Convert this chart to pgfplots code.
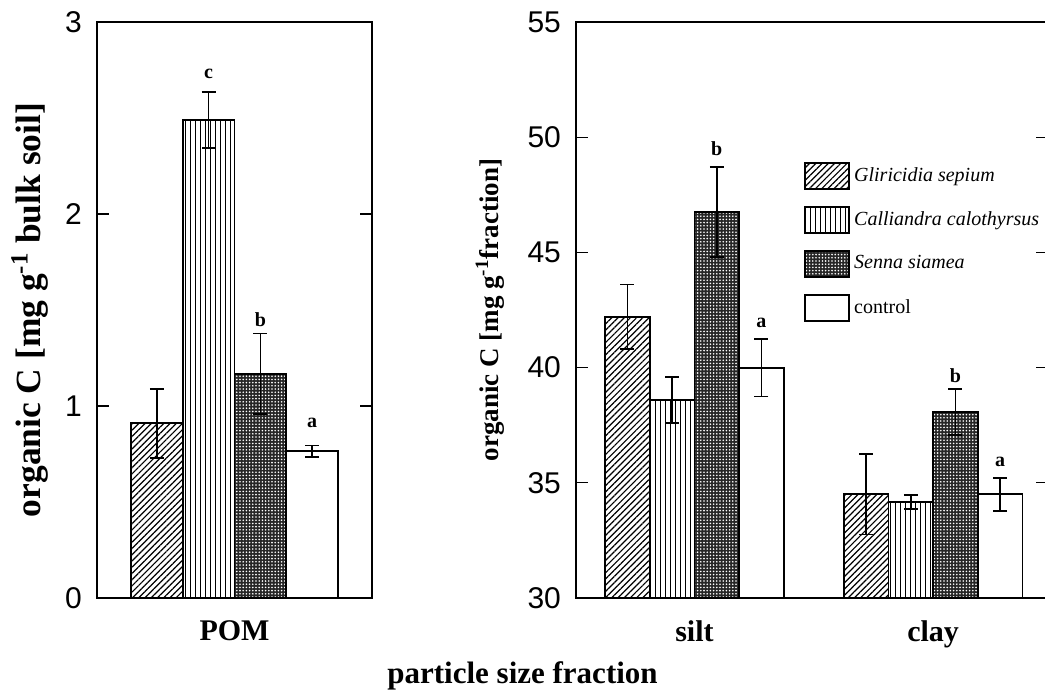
\documentclass[border=0pt]{standalone}
\usepackage{fontspec}
\setmainfont{Liberation Serif}
\newfontfamily\tickfont{Liberation Sans}
\usepackage{pgfplots}
\pgfplotsset{compat=1.18}
\usetikzlibrary{patterns.meta}

\tikzset{letter/.style={font=\fontsize{10}{11}\selectfont\bfseries}}
\pgfplotsset{
  panel/.style={
    scale only axis, height=288pt, anchor=south west,
    ybar, bar width=1, bar shift=0pt, enlargelimits=false,
    axis line style={line width=0.6pt},
    tick align=inside, ytick pos=both, major tick length=6pt,
    xtick style={draw=none}, ytick style={line width=0.6pt, black},
    /pgf/number format/assume math mode=true,
    yticklabel style={font=\fontsize{15}{16}\tickfont, xshift=-4pt},
    xticklabel style={font=\fontsize{15}{17}\selectfont\bfseries, yshift=-8pt},
    ylabel style={anchor=center},
  },
  eb/.style={
    error bars/y dir=both, error bars/y explicit,
    error bars/error bar style={line width=0.8pt, black},
    error bars/error mark options={rotate=90, black, line width=0.8pt, mark size=3.5pt},
  },
  gliri/.style={draw=black, line width=0.9pt,
    pattern={Lines[angle=45,distance=2.2pt,line width=0.6pt]}, eb},
  calli/.style={draw=black, line width=0.9pt,
    pattern={Lines[angle=90,distance=2.5pt,line width=0.5pt]}, eb},
  senna/.style={draw=black, line width=0.9pt, fill=black!85,
    postaction={pattern={Dots[distance=1.6pt,radius=0.45pt]}, pattern color=white}, eb},
  ctrl/.style={draw=black, line width=0.9pt, fill=white, eb},
}

\begin{document}
\begin{tikzpicture}
\path[use as bounding box] (0,0) rectangle (522.5pt,346.5pt);

% particulate organic matter
\begin{axis}[panel, at={(48.5pt,47.5pt)}, width=137.5pt,
    xmin=-1.16, xmax=4.16, ymin=0, ymax=3, ytick={0,1,2,3},
    xtick={1.5}, xticklabels={POM},
    ylabel={organic C [mg g\textsuperscript{-1} bulk soil]},
    ylabel style={at={(axis description cs:-0.245,0.5)},
      font=\fontsize{17.7}{19}\selectfont\bfseries}]
\addplot[gliri] coordinates {(0,0.91) +- (0,0.18)};
\addplot[calli] coordinates {(1,2.49) +- (0,0.145)};
\addplot[senna] coordinates {(2,1.167) +- (0,0.21)};
\addplot[ctrl] coordinates {(3,0.765) +- (0,0.03)};
\node[letter] at (axis cs:1,2.73) {c};
\node[letter] at (axis cs:2,1.45) {b};
\node[letter] at (axis cs:3,0.91) {a};
\end{axis}

% silt and clay
\begin{axis}[panel, at={(288pt,47.5pt)}, width=236pt,
    xmin=-1.15, xmax=9.41, ymin=30, ymax=55, ytick={30,35,...,55},
    xtick={1.5,6.84}, xticklabels={silt,clay},
    ylabel={organic C [mg g\textsuperscript{-1}fraction]},
    ylabel style={at={(axis description cs:-0.182,0.5)},
      font=\fontsize{13.5}{15}\selectfont\bfseries},
    legend style={draw=none, fill=none, inner sep=0pt,
      at={(axis description cs:0.483,0.757)}, anchor=north west,
      font=\fontsize{10}{12}\selectfont, row sep=8pt},
    legend cell align=left,
    legend image code/.code={\draw[#1] (0pt,-6.5pt) rectangle (22pt,6.5pt);}]
\addplot[gliri] coordinates {(0,42.2) +- (0,1.4) (5.34,34.5) +- (0,1.75)};
\addlegendentry{\textit{Gliricidia sepium}}
\addplot[calli] coordinates {(1,38.6) +- (0,1.0) (6.34,34.17) +- (0,0.3)};
\addlegendentry{\textit{Calliandra calothyrsus}}
\addplot[senna] coordinates {(2,46.75) +- (0,1.95) (7.34,38.07) +- (0,1.0)};
\addlegendentry{\textit{Senna siamea}}
\addplot[ctrl] coordinates {(3,40.0) +- (0,1.25) (8.34,34.5) +- (0,0.72)};
\addlegendentry{control}
\node[letter] at (axis cs:2,49.5) {b};
\node[letter] at (axis cs:3,41.95) {a};
\node[letter] at (axis cs:7.34,39.65) {b};
\node[letter] at (axis cs:8.34,35.9) {a};
\end{axis}

\node[font=\fontsize{15.5}{17}\selectfont\bfseries, anchor=base] at (261.25pt,5pt) {particle size fraction};
\end{tikzpicture}
\end{document}
